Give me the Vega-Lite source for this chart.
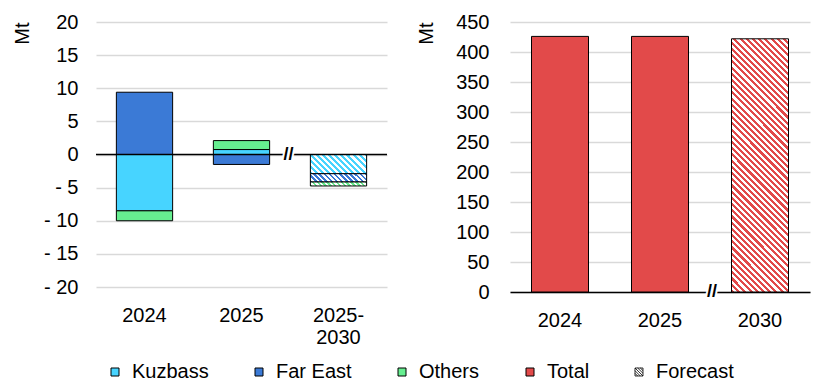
{
"$schema":"https://vega.github.io/schema/vega-lite/v6.json",
"background":"white",
"padding":{"left":12,"top":12,"right":5,"bottom":5},
"config":{
 "font":"Liberation Sans",
 "view":{"stroke":null},
 "bar":{"stroke":"#000","strokeWidth":1},
 "axis":{"labelFont":"Liberation Sans","labelFontSize":20,"labelColor":"#000","labelOverlap":false,"titleFont":"Liberation Sans","titleFontSize":20,"titleColor":"#000","titleFontWeight":"normal","ticks":false,"gridColor":"#d9d9d9","gridWidth":1.5},
 "legend":{"orient":"none","legendY":340,"direction":"horizontal","title":null,"symbolSize":64,"symbolStrokeColor":"#000","symbolStrokeWidth":1,"symbolOpacity":1,"labelFont":"Liberation Sans","labelFontSize":20,"labelColor":"#000","labelOffset":7,"columnPadding":40}
},
"datasets":{
 "changes":[
  {"year":"2024","cat":"Kuzbass","ord":1,"value":-8.5,"fc":false},
  {"year":"2024","cat":"Far East","ord":2,"value":9.4,"fc":false},
  {"year":"2024","cat":"Others","ord":3,"value":-1.5,"fc":false},
  {"year":"2025","cat":"Kuzbass","ord":1,"value":0.75,"fc":false},
  {"year":"2025","cat":"Far East","ord":2,"value":-1.5,"fc":false},
  {"year":"2025","cat":"Others","ord":3,"value":1.35,"fc":false},
  {"year":"2025-2030","cat":"Kuzbass","ord":1,"value":-2.9,"fc":true},
  {"year":"2025-2030","cat":"Far East","ord":2,"value":-1.25,"fc":true},
  {"year":"2025-2030","cat":"Others","ord":3,"value":-0.6,"fc":true}
 ],
 "totals":[
  {"year":"2024","cat":"Total","value":426,"fc":false},
  {"year":"2025","cat":"Total","value":426,"fc":false},
  {"year":"2030","cat":"Total","value":422,"fc":true}
 ],
 "brk1":[{"year":"2025-2030","txt":"//","zero":0}],
 "brk2":[{"year":"2030","txt":"//","zero":0}]
},
"spacing":28,
"resolve":{"scale":{"color":"shared","shape":"shared"},"legend":{"color":"shared","shape":"shared"}},
"hconcat":[
 {
  "width":291,"height":265,
  "layer":[
   {
    "data":{"name":"changes"},
    "transform":[{"stack":"value","groupby":["year"],"sort":[{"field":"ord","order":"ascending"}],"as":["v0","v1"]}],
    "encoding":{
     "x":{"field":"year","type":"nominal","sort":["2024","2025","2025-2030"],"scale":{"paddingInner":0.42,"paddingOuter":0.21},"axis":{"title":null,"domain":false,"labelAngle":0,"labelPadding":18,"labelLineHeight":22,"labelExpr":"datum.value === '2025-2030' ? ['2025-', '2030'] : datum.value"}},
     "y":{"field":"v0","type":"quantitative","scale":{"domain":[-20,20],"nice":false},"axis":{"title":"Mt","values":[-20,-15,-10,-5,0,5,10,15,20],"labelOverlap":false,"domain":false,"grid":true,"labelPadding":18,"titleAnchor":"end","titlePadding":11,"labelExpr":"datum.value < 0 ? '- ' + abs(datum.value) : datum.label"}},
     "y2":{"field":"v1"}
    },
    "layer":[
     {"transform":[{"filter":"!datum.fc"}],"mark":{"type":"bar","stroke":"#000","strokeWidth":1},
      "encoding":{"color":{"field":"cat","type":"nominal","scale":{"domain":["Kuzbass","Far East","Others","Total"],"range":["#47D4FF","#3B7AD6","#66EE90","#E24A4A"]},"legend":{"legendX":9,"symbolType":"square"}}}},
     {"transform":[{"filter":"datum.fc && datum.cat === 'Kuzbass'"}],"mark":{"type":"bar","stroke":"#000","strokeWidth":1,"fill":{"gradient":"linear","x1":0,"y1":1,"x2":1.201,"y2":0.59,"stops":[
{"offset":0,"color":"#47D4FF"},{"offset":0.04,"color":"#47D4FF"},{"offset":0.04,"color":"#fff"},{"offset":0.08,"color":"#fff"},
{"offset":0.08,"color":"#47D4FF"},{"offset":0.12,"color":"#47D4FF"},{"offset":0.12,"color":"#fff"},{"offset":0.16,"color":"#fff"},
{"offset":0.16,"color":"#47D4FF"},{"offset":0.2,"color":"#47D4FF"},{"offset":0.2,"color":"#fff"},{"offset":0.24,"color":"#fff"},
{"offset":0.24,"color":"#47D4FF"},{"offset":0.28,"color":"#47D4FF"},{"offset":0.28,"color":"#fff"},{"offset":0.32,"color":"#fff"},
{"offset":0.32,"color":"#47D4FF"},{"offset":0.36,"color":"#47D4FF"},{"offset":0.36,"color":"#fff"},{"offset":0.4,"color":"#fff"},
{"offset":0.4,"color":"#47D4FF"},{"offset":0.44,"color":"#47D4FF"},{"offset":0.44,"color":"#fff"},{"offset":0.48,"color":"#fff"},
{"offset":0.48,"color":"#47D4FF"},{"offset":0.52,"color":"#47D4FF"},{"offset":0.52,"color":"#fff"},{"offset":0.56,"color":"#fff"},
{"offset":0.56,"color":"#47D4FF"},{"offset":0.6,"color":"#47D4FF"},{"offset":0.6,"color":"#fff"},{"offset":0.64,"color":"#fff"},
{"offset":0.64,"color":"#47D4FF"},{"offset":0.68,"color":"#47D4FF"},{"offset":0.68,"color":"#fff"},{"offset":0.72,"color":"#fff"},
{"offset":0.72,"color":"#47D4FF"},{"offset":0.76,"color":"#47D4FF"},{"offset":0.76,"color":"#fff"},{"offset":0.8,"color":"#fff"},
{"offset":0.8,"color":"#47D4FF"},{"offset":0.84,"color":"#47D4FF"},{"offset":0.84,"color":"#fff"},{"offset":0.88,"color":"#fff"},
{"offset":0.88,"color":"#47D4FF"},{"offset":0.92,"color":"#47D4FF"},{"offset":0.92,"color":"#fff"},{"offset":0.96,"color":"#fff"},
{"offset":0.96,"color":"#47D4FF"},{"offset":1,"color":"#47D4FF"}]}}},
     {"transform":[{"filter":"datum.fc && datum.cat === 'Far East'"}],"mark":{"type":"bar","stroke":"#000","strokeWidth":1,"fill":{"gradient":"linear","x1":0,"y1":1,"x2":1.123,"y2":0.834,"stops":[
{"offset":0,"color":"#3B7AD6"},{"offset":0.04,"color":"#3B7AD6"},{"offset":0.04,"color":"#fff"},{"offset":0.08,"color":"#fff"},
{"offset":0.08,"color":"#3B7AD6"},{"offset":0.12,"color":"#3B7AD6"},{"offset":0.12,"color":"#fff"},{"offset":0.16,"color":"#fff"},
{"offset":0.16,"color":"#3B7AD6"},{"offset":0.2,"color":"#3B7AD6"},{"offset":0.2,"color":"#fff"},{"offset":0.24,"color":"#fff"},
{"offset":0.24,"color":"#3B7AD6"},{"offset":0.28,"color":"#3B7AD6"},{"offset":0.28,"color":"#fff"},{"offset":0.32,"color":"#fff"},
{"offset":0.32,"color":"#3B7AD6"},{"offset":0.36,"color":"#3B7AD6"},{"offset":0.36,"color":"#fff"},{"offset":0.4,"color":"#fff"},
{"offset":0.4,"color":"#3B7AD6"},{"offset":0.44,"color":"#3B7AD6"},{"offset":0.44,"color":"#fff"},{"offset":0.48,"color":"#fff"},
{"offset":0.48,"color":"#3B7AD6"},{"offset":0.52,"color":"#3B7AD6"},{"offset":0.52,"color":"#fff"},{"offset":0.56,"color":"#fff"},
{"offset":0.56,"color":"#3B7AD6"},{"offset":0.6,"color":"#3B7AD6"},{"offset":0.6,"color":"#fff"},{"offset":0.64,"color":"#fff"},
{"offset":0.64,"color":"#3B7AD6"},{"offset":0.68,"color":"#3B7AD6"},{"offset":0.68,"color":"#fff"},{"offset":0.72,"color":"#fff"},
{"offset":0.72,"color":"#3B7AD6"},{"offset":0.76,"color":"#3B7AD6"},{"offset":0.76,"color":"#fff"},{"offset":0.8,"color":"#fff"},
{"offset":0.8,"color":"#3B7AD6"},{"offset":0.84,"color":"#3B7AD6"},{"offset":0.84,"color":"#fff"},{"offset":0.88,"color":"#fff"},
{"offset":0.88,"color":"#3B7AD6"},{"offset":0.92,"color":"#3B7AD6"},{"offset":0.92,"color":"#fff"},{"offset":0.96,"color":"#fff"},
{"offset":0.96,"color":"#3B7AD6"},{"offset":1,"color":"#3B7AD6"}]}}},
     {"transform":[{"filter":"datum.fc && datum.cat === 'Others'"}],"mark":{"type":"bar","stroke":"#000","strokeWidth":1,"fill":{"gradient":"linear","x1":0,"y1":1,"x2":1.066,"y2":0.924,"stops":[
{"offset":0,"color":"#66EE90"},{"offset":0.04,"color":"#66EE90"},{"offset":0.04,"color":"#fff"},{"offset":0.08,"color":"#fff"},
{"offset":0.08,"color":"#66EE90"},{"offset":0.12,"color":"#66EE90"},{"offset":0.12,"color":"#fff"},{"offset":0.16,"color":"#fff"},
{"offset":0.16,"color":"#66EE90"},{"offset":0.2,"color":"#66EE90"},{"offset":0.2,"color":"#fff"},{"offset":0.24,"color":"#fff"},
{"offset":0.24,"color":"#66EE90"},{"offset":0.28,"color":"#66EE90"},{"offset":0.28,"color":"#fff"},{"offset":0.32,"color":"#fff"},
{"offset":0.32,"color":"#66EE90"},{"offset":0.36,"color":"#66EE90"},{"offset":0.36,"color":"#fff"},{"offset":0.4,"color":"#fff"},
{"offset":0.4,"color":"#66EE90"},{"offset":0.44,"color":"#66EE90"},{"offset":0.44,"color":"#fff"},{"offset":0.48,"color":"#fff"},
{"offset":0.48,"color":"#66EE90"},{"offset":0.52,"color":"#66EE90"},{"offset":0.52,"color":"#fff"},{"offset":0.56,"color":"#fff"},
{"offset":0.56,"color":"#66EE90"},{"offset":0.6,"color":"#66EE90"},{"offset":0.6,"color":"#fff"},{"offset":0.64,"color":"#fff"},
{"offset":0.64,"color":"#66EE90"},{"offset":0.68,"color":"#66EE90"},{"offset":0.68,"color":"#fff"},{"offset":0.72,"color":"#fff"},
{"offset":0.72,"color":"#66EE90"},{"offset":0.76,"color":"#66EE90"},{"offset":0.76,"color":"#fff"},{"offset":0.8,"color":"#fff"},
{"offset":0.8,"color":"#66EE90"},{"offset":0.84,"color":"#66EE90"},{"offset":0.84,"color":"#fff"},{"offset":0.88,"color":"#fff"},
{"offset":0.88,"color":"#66EE90"},{"offset":0.92,"color":"#66EE90"},{"offset":0.92,"color":"#fff"},{"offset":0.96,"color":"#fff"},
{"offset":0.96,"color":"#66EE90"},{"offset":1,"color":"#66EE90"}]}}}
    ]
   },
   {"data":{"name":"brk1"},"mark":{"type":"rule","color":"#000","strokeWidth":1.5},"encoding":{"y":{"field":"zero","type":"quantitative","axis":{"title":"Mt","values":[-20,-15,-10,-5,0,5,10,15,20],"labelOverlap":false,"domain":false,"grid":true,"labelPadding":18,"titleAnchor":"end","titlePadding":11,"labelExpr":"datum.value < 0 ? '- ' + abs(datum.value) : datum.label"}}}},
   {"data":{"name":"brk1"},"mark":{"type":"text","fontSize":18,"fontWeight":"bold","dx":-50,"stroke":"#fff","strokeWidth":4,"color":"#fff"},"encoding":{"x":{"field":"year","type":"nominal","sort":["2024","2025","2025-2030"]},"y":{"field":"zero","type":"quantitative","axis":{"title":"Mt","values":[-20,-15,-10,-5,0,5,10,15,20],"labelOverlap":false,"domain":false,"grid":true,"labelPadding":18,"titleAnchor":"end","titlePadding":11,"labelExpr":"datum.value < 0 ? '- ' + abs(datum.value) : datum.label"}},"text":{"field":"txt"}}},
   {"data":{"name":"brk1"},"mark":{"type":"text","fontSize":18,"fontWeight":"bold","dx":-50,"color":"#000"},"encoding":{"x":{"field":"year","type":"nominal","sort":["2024","2025","2025-2030"]},"y":{"field":"zero","type":"quantitative","axis":{"title":"Mt","values":[-20,-15,-10,-5,0,5,10,15,20],"labelOverlap":false,"domain":false,"grid":true,"labelPadding":18,"titleAnchor":"end","titlePadding":11,"labelExpr":"datum.value < 0 ? '- ' + abs(datum.value) : datum.label"}},"text":{"field":"txt"}}}
  ]
 },
 {
  "width":300,"height":270,
  "layer":[
   {
    "data":{"name":"totals"},
    "encoding":{
     "x":{"field":"year","type":"nominal","sort":["2024","2025","2030"],"scale":{"paddingInner":0.43,"paddingOuter":0.215},"axis":{"title":null,"domain":true,"domainColor":"#000","domainWidth":1.5,"labelAngle":0,"labelPadding":18}},
     "y":{"field":"value","type":"quantitative","scale":{"domain":[0,450],"nice":false},"axis":{"title":"Mt","values":[0,50,100,150,200,250,300,350,400,450],"labelOverlap":false,"domain":false,"grid":true,"labelPadding":21,"titleAnchor":"end","titlePadding":19}}
    },
    "layer":[
     {"transform":[{"filter":"!datum.fc"}],"mark":{"type":"bar","stroke":"#000","strokeWidth":1},
      "encoding":{"color":{"field":"cat","type":"nominal","scale":{"domain":["Kuzbass","Far East","Others","Total"],"range":["#47D4FF","#3B7AD6","#66EE90","#E24A4A"]},"legend":{"legendX":9,"symbolType":"square"}}}},
     {"transform":[{"filter":"datum.fc"}],"mark":{"type":"bar","stroke":"#000","strokeWidth":1,"fill":{"gradient":"linear","x1":0,"y1":1,"x2":0.263,"y2":-0.166,"stops":[
{"offset":0,"color":"#E24A4A"},{"offset":0.01,"color":"#E24A4A"},{"offset":0.01,"color":"#fff"},{"offset":0.02,"color":"#fff"},
{"offset":0.02,"color":"#E24A4A"},{"offset":0.03,"color":"#E24A4A"},{"offset":0.03,"color":"#fff"},{"offset":0.04,"color":"#fff"},
{"offset":0.04,"color":"#E24A4A"},{"offset":0.05,"color":"#E24A4A"},{"offset":0.05,"color":"#fff"},{"offset":0.06,"color":"#fff"},
{"offset":0.06,"color":"#E24A4A"},{"offset":0.07,"color":"#E24A4A"},{"offset":0.07,"color":"#fff"},{"offset":0.08,"color":"#fff"},
{"offset":0.08,"color":"#E24A4A"},{"offset":0.09,"color":"#E24A4A"},{"offset":0.09,"color":"#fff"},{"offset":0.1,"color":"#fff"},
{"offset":0.1,"color":"#E24A4A"},{"offset":0.11,"color":"#E24A4A"},{"offset":0.11,"color":"#fff"},{"offset":0.12,"color":"#fff"},
{"offset":0.12,"color":"#E24A4A"},{"offset":0.13,"color":"#E24A4A"},{"offset":0.13,"color":"#fff"},{"offset":0.14,"color":"#fff"},
{"offset":0.14,"color":"#E24A4A"},{"offset":0.15,"color":"#E24A4A"},{"offset":0.15,"color":"#fff"},{"offset":0.16,"color":"#fff"},
{"offset":0.16,"color":"#E24A4A"},{"offset":0.17,"color":"#E24A4A"},{"offset":0.17,"color":"#fff"},{"offset":0.18,"color":"#fff"},
{"offset":0.18,"color":"#E24A4A"},{"offset":0.19,"color":"#E24A4A"},{"offset":0.19,"color":"#fff"},{"offset":0.2,"color":"#fff"},
{"offset":0.2,"color":"#E24A4A"},{"offset":0.21,"color":"#E24A4A"},{"offset":0.21,"color":"#fff"},{"offset":0.22,"color":"#fff"},
{"offset":0.22,"color":"#E24A4A"},{"offset":0.23,"color":"#E24A4A"},{"offset":0.23,"color":"#fff"},{"offset":0.24,"color":"#fff"},
{"offset":0.24,"color":"#E24A4A"},{"offset":0.25,"color":"#E24A4A"},{"offset":0.25,"color":"#fff"},{"offset":0.26,"color":"#fff"},
{"offset":0.26,"color":"#E24A4A"},{"offset":0.27,"color":"#E24A4A"},{"offset":0.27,"color":"#fff"},{"offset":0.28,"color":"#fff"},
{"offset":0.28,"color":"#E24A4A"},{"offset":0.29,"color":"#E24A4A"},{"offset":0.29,"color":"#fff"},{"offset":0.3,"color":"#fff"},
{"offset":0.3,"color":"#E24A4A"},{"offset":0.31,"color":"#E24A4A"},{"offset":0.31,"color":"#fff"},{"offset":0.32,"color":"#fff"},
{"offset":0.32,"color":"#E24A4A"},{"offset":0.33,"color":"#E24A4A"},{"offset":0.33,"color":"#fff"},{"offset":0.34,"color":"#fff"},
{"offset":0.34,"color":"#E24A4A"},{"offset":0.35,"color":"#E24A4A"},{"offset":0.35,"color":"#fff"},{"offset":0.36,"color":"#fff"},
{"offset":0.36,"color":"#E24A4A"},{"offset":0.37,"color":"#E24A4A"},{"offset":0.37,"color":"#fff"},{"offset":0.38,"color":"#fff"},
{"offset":0.38,"color":"#E24A4A"},{"offset":0.39,"color":"#E24A4A"},{"offset":0.39,"color":"#fff"},{"offset":0.4,"color":"#fff"},
{"offset":0.4,"color":"#E24A4A"},{"offset":0.41,"color":"#E24A4A"},{"offset":0.41,"color":"#fff"},{"offset":0.42,"color":"#fff"},
{"offset":0.42,"color":"#E24A4A"},{"offset":0.43,"color":"#E24A4A"},{"offset":0.43,"color":"#fff"},{"offset":0.44,"color":"#fff"},
{"offset":0.44,"color":"#E24A4A"},{"offset":0.45,"color":"#E24A4A"},{"offset":0.45,"color":"#fff"},{"offset":0.46,"color":"#fff"},
{"offset":0.46,"color":"#E24A4A"},{"offset":0.47,"color":"#E24A4A"},{"offset":0.47,"color":"#fff"},{"offset":0.48,"color":"#fff"},
{"offset":0.48,"color":"#E24A4A"},{"offset":0.49,"color":"#E24A4A"},{"offset":0.49,"color":"#fff"},{"offset":0.5,"color":"#fff"},
{"offset":0.5,"color":"#E24A4A"},{"offset":0.51,"color":"#E24A4A"},{"offset":0.51,"color":"#fff"},{"offset":0.52,"color":"#fff"},
{"offset":0.52,"color":"#E24A4A"},{"offset":0.53,"color":"#E24A4A"},{"offset":0.53,"color":"#fff"},{"offset":0.54,"color":"#fff"},
{"offset":0.54,"color":"#E24A4A"},{"offset":0.55,"color":"#E24A4A"},{"offset":0.55,"color":"#fff"},{"offset":0.56,"color":"#fff"},
{"offset":0.56,"color":"#E24A4A"},{"offset":0.57,"color":"#E24A4A"},{"offset":0.57,"color":"#fff"},{"offset":0.58,"color":"#fff"},
{"offset":0.58,"color":"#E24A4A"},{"offset":0.59,"color":"#E24A4A"},{"offset":0.59,"color":"#fff"},{"offset":0.6,"color":"#fff"},
{"offset":0.6,"color":"#E24A4A"},{"offset":0.61,"color":"#E24A4A"},{"offset":0.61,"color":"#fff"},{"offset":0.62,"color":"#fff"},
{"offset":0.62,"color":"#E24A4A"},{"offset":0.63,"color":"#E24A4A"},{"offset":0.63,"color":"#fff"},{"offset":0.64,"color":"#fff"},
{"offset":0.64,"color":"#E24A4A"},{"offset":0.65,"color":"#E24A4A"},{"offset":0.65,"color":"#fff"},{"offset":0.66,"color":"#fff"},
{"offset":0.66,"color":"#E24A4A"},{"offset":0.67,"color":"#E24A4A"},{"offset":0.67,"color":"#fff"},{"offset":0.68,"color":"#fff"},
{"offset":0.68,"color":"#E24A4A"},{"offset":0.69,"color":"#E24A4A"},{"offset":0.69,"color":"#fff"},{"offset":0.7,"color":"#fff"},
{"offset":0.7,"color":"#E24A4A"},{"offset":0.71,"color":"#E24A4A"},{"offset":0.71,"color":"#fff"},{"offset":0.72,"color":"#fff"},
{"offset":0.72,"color":"#E24A4A"},{"offset":0.73,"color":"#E24A4A"},{"offset":0.73,"color":"#fff"},{"offset":0.74,"color":"#fff"},
{"offset":0.74,"color":"#E24A4A"},{"offset":0.75,"color":"#E24A4A"},{"offset":0.75,"color":"#fff"},{"offset":0.76,"color":"#fff"},
{"offset":0.76,"color":"#E24A4A"},{"offset":0.77,"color":"#E24A4A"},{"offset":0.77,"color":"#fff"},{"offset":0.78,"color":"#fff"},
{"offset":0.78,"color":"#E24A4A"},{"offset":0.79,"color":"#E24A4A"},{"offset":0.79,"color":"#fff"},{"offset":0.8,"color":"#fff"},
{"offset":0.8,"color":"#E24A4A"},{"offset":0.81,"color":"#E24A4A"},{"offset":0.81,"color":"#fff"},{"offset":0.82,"color":"#fff"},
{"offset":0.82,"color":"#E24A4A"},{"offset":0.83,"color":"#E24A4A"},{"offset":0.83,"color":"#fff"},{"offset":0.84,"color":"#fff"},
{"offset":0.84,"color":"#E24A4A"},{"offset":0.85,"color":"#E24A4A"},{"offset":0.85,"color":"#fff"},{"offset":0.86,"color":"#fff"},
{"offset":0.86,"color":"#E24A4A"},{"offset":0.87,"color":"#E24A4A"},{"offset":0.87,"color":"#fff"},{"offset":0.88,"color":"#fff"},
{"offset":0.88,"color":"#E24A4A"},{"offset":0.89,"color":"#E24A4A"},{"offset":0.89,"color":"#fff"},{"offset":0.9,"color":"#fff"},
{"offset":0.9,"color":"#E24A4A"},{"offset":0.91,"color":"#E24A4A"},{"offset":0.91,"color":"#fff"},{"offset":0.92,"color":"#fff"},
{"offset":0.92,"color":"#E24A4A"},{"offset":0.93,"color":"#E24A4A"},{"offset":0.93,"color":"#fff"},{"offset":0.94,"color":"#fff"},
{"offset":0.94,"color":"#E24A4A"},{"offset":0.95,"color":"#E24A4A"},{"offset":0.95,"color":"#fff"},{"offset":0.96,"color":"#fff"},
{"offset":0.96,"color":"#E24A4A"},{"offset":0.97,"color":"#E24A4A"},{"offset":0.97,"color":"#fff"},{"offset":0.98,"color":"#fff"},
{"offset":0.98,"color":"#E24A4A"},{"offset":0.99,"color":"#E24A4A"},{"offset":0.99,"color":"#fff"},{"offset":1,"color":"#fff"}]}}},
     {"transform":[{"filter":"datum.fc"}],"mark":{"type":"point","filled":false,"color":"#000","opacity":0},
      "encoding":{"shape":{"datum":"Forecast","type":"nominal","scale":{"domain":["Forecast"],"range":["M-1,-1H1V1H-1Z M-1,-1L1,1 M-0.33,-1L1,0.33 M-1,-0.33L0.33,1 M0.33,-1L1,-0.33 M-1,0.33L-0.33,1"]},"legend":{"legendX":533,"symbolStrokeWidth":0.8}}}}
    ]
   },
   {"data":{"name":"brk2"},"mark":{"type":"text","fontSize":18,"fontWeight":"bold","dx":-48,"stroke":"#fff","strokeWidth":4,"color":"#fff"},"encoding":{"x":{"field":"year","type":"nominal","sort":["2024","2025","2030"]},"y":{"field":"zero","type":"quantitative","axis":{"title":"Mt","values":[0,50,100,150,200,250,300,350,400,450],"labelOverlap":false,"domain":false,"grid":true,"labelPadding":21,"titleAnchor":"end","titlePadding":19}},"text":{"field":"txt"}}},
   {"data":{"name":"brk2"},"mark":{"type":"text","fontSize":18,"fontWeight":"bold","dx":-48,"color":"#000"},"encoding":{"x":{"field":"year","type":"nominal","sort":["2024","2025","2030"]},"y":{"field":"zero","type":"quantitative","axis":{"title":"Mt","values":[0,50,100,150,200,250,300,350,400,450],"labelOverlap":false,"domain":false,"grid":true,"labelPadding":21,"titleAnchor":"end","titlePadding":19}},"text":{"field":"txt"}}}
  ]
 }
]
}
